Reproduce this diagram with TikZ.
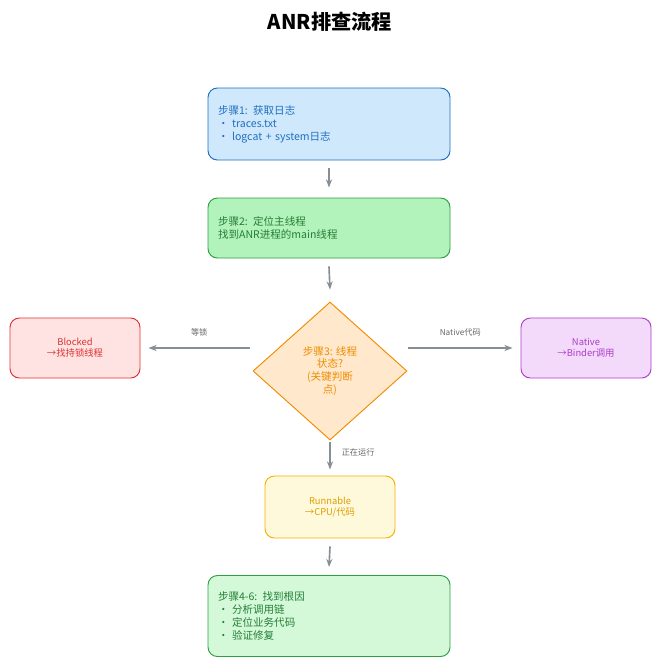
\documentclass[tikz,border=0pt]{standalone}
\usepackage{fontspec}
\setmainfont{Noto Sans CJK SC}
\usetikzlibrary{shapes.geometric,arrows.meta}

\definecolor{bluefill}{HTML}{D0E8FC}\definecolor{blueline}{HTML}{1E6FC0}
\definecolor{greenfill}{HTML}{B2F2BB}\definecolor{greenline}{HTML}{2F9E44}
\definecolor{lgreenfill}{HTML}{D3F9D8}
\definecolor{orangefill}{HTML}{FFE8CC}\definecolor{orangeline}{HTML}{F08C00}
\definecolor{redfill}{HTML}{FFE3E3}\definecolor{redline}{HTML}{E03131}
\definecolor{purplefill}{HTML}{F3D9FA}\definecolor{purpleline}{HTML}{AE3EC9}
\definecolor{yellowfill}{HTML}{FFF9DB}\definecolor{yellowline}{HTML}{F5B000}
\definecolor{arrowgray}{HTML}{868E96}

\tikzset{
  stepbox/.style={draw, thick, rounded corners=8pt, minimum width=242*0.03cm, align=left, font=\small, text width=222*0.03cm},
  sidebox/.style={draw, thick, rounded corners=8pt, minimum width=130*0.03cm, minimum height=60*0.03cm, align=center, font=\footnotesize},
  flow/.style={-{Stealth[length=7pt]}, arrowgray, line width=1.4pt},
  note/.style={font=\scriptsize, text=black!60}
}

\begin{document}
\begin{tikzpicture}[x=0.03cm, y=-0.03cm]
\useasboundingbox (0,0) rectangle (660,667);

% ---------- TITLE ----------
\node[font=\LARGE\bfseries] (title) at (330,22) {ANR排查流程};

% ---------- MAIN CHAIN ----------
\node[stepbox, fill=bluefill, draw=blueline, text=blueline, minimum height=72*0.03cm] (s1) at (329,124)
  {步骤1: 获取日志\\• traces.txt\\• logcat + system日志};
\node[stepbox, fill=greenfill, draw=greenline, text=greenline!80!black, minimum height=60*0.03cm] (s2) at (329,228)
  {步骤2: 定位主线程\\找到ANR进程的main线程};
\node[diamond, draw=orangeline, thick, fill=orangefill, text=orangeline, minimum width=154*0.03cm,
  minimum height=138*0.03cm, inner sep=0pt, align=center, font=\small] (s3) at (330,371)
  {步骤3: 线程\\状态?\\(关键判断\\点)};
\node[sidebox, fill=redfill, draw=redline, text=redline] (blocked) at (75,348) {Blocked\\→找持锁线程};
\node[sidebox, fill=purplefill, draw=purpleline, text=purpleline] (native) at (586,348) {Native\\→Binder调用};
\node[sidebox, fill=yellowfill, draw=yellowline, text=yellowline!90!black, minimum height=62*0.03cm] (run) at (330,507) {Runnable\\→CPU/代码};
\node[stepbox, fill=lgreenfill, draw=greenline, text=greenline!80!black, minimum height=81*0.03cm] (s4) at (329,616)
  {步骤4-6: 找到根因\\• 分析调用链\\• 定位业务代码\\• 验证修复};

% ---------- ARROWS ----------
\draw[flow] ([yshift=-8*0.03cm]s1.south) -- ([yshift=10*0.03cm]s2.north);
\draw[flow] ([yshift=-8*0.03cm]s2.south) -- ([yshift=12*0.03cm]s3.north);
\draw[flow] (250,348) -- ([xshift=8*0.03cm]blocked.east) node[note, midway, above=6pt] {等锁};
\draw[flow] (408,348) -- ([xshift=-8*0.03cm]native.west) node[note, midway, above=6pt] {Native代码};
\draw[flow] ([yshift=-2*0.03cm]s3.south) -- ([yshift=6*0.03cm]run.north) node[note, pos=0.35, right=6pt] {正在运行};
\draw[flow] ([yshift=-8*0.03cm]run.south) -- ([yshift=8*0.03cm]s4.north);

\end{tikzpicture}
\end{document}
